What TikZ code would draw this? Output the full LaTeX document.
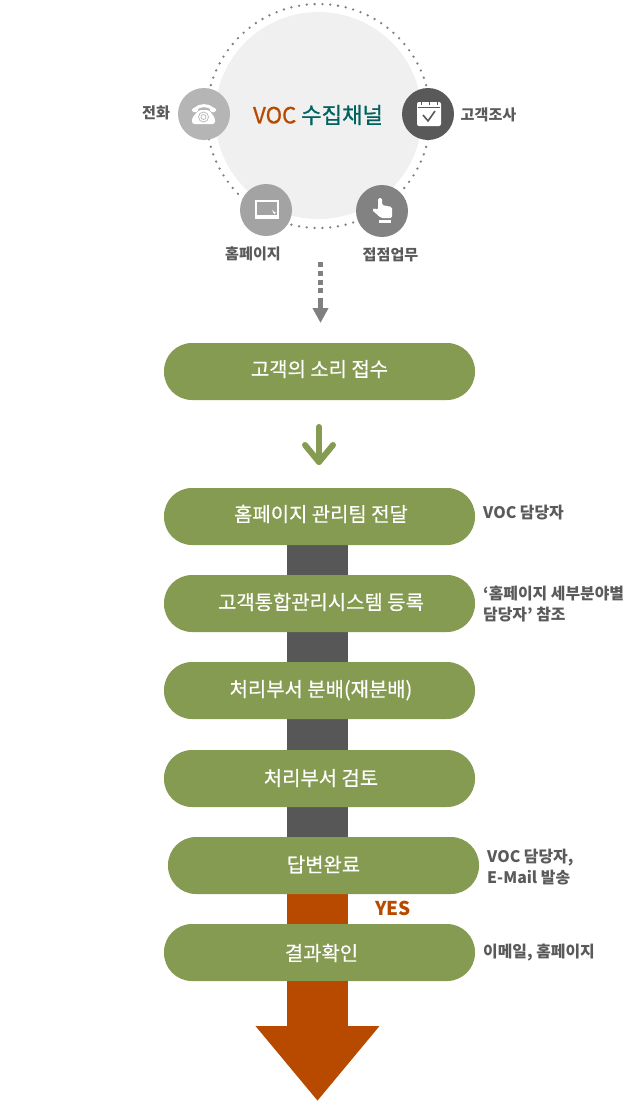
\documentclass[tikz,border=0pt]{standalone}
\usepackage{fontspec}
\setmainfont{Noto Sans CJK KR}
\newfontfamily\medfont{Noto Sans CJK KR}[FakeBold=0.5]
\newfontfamily\semifont{Noto Sans CJK KR}[FakeBold=0.9]
\usepackage{xcolor}
\usepackage{tikz}
\usetikzlibrary{arrows.meta,backgrounds}
\definecolor{pillgreen}{HTML}{859B52}
\definecolor{barorange}{HTML}{B84A00}
\definecolor{bargray}{HTML}{575757}
\definecolor{labelgray}{HTML}{5A5A5A}
\definecolor{titleteal}{HTML}{00625F}
\begin{document}
\begin{tikzpicture}[x=1pt, y=-1pt,
  pill/.style={fill=pillgreen, rounded corners=28pt, minimum width=311pt, minimum height=57pt, inner sep=0pt, text=white, text height=16pt, font=\medfont\fontsize{19.9}{22}\selectfont},
  lift/.style={text depth=#1},
  side/.style={anchor=west, align=left, inner sep=0pt, text=labelgray, font=\fontsize{15.9}{21}\selectfont\bfseries},
  chan/.style={inner sep=0pt, text=labelgray, font=\fontsize{15.1}{18}\selectfont\bfseries},
  icon/.style={circle, minimum size=52pt, inner sep=0pt},
  bar/.style={line width=61pt}]
\useasboundingbox (0,0) rectangle (640,1103);
% collection channels
\node[circle, fill=black!6, minimum size=207pt, inner sep=0pt] (hub) at (318.5,115.5) {};
\draw[black!50, line width=2.6pt, line cap=round, dash pattern=on 0pt off 7.82pt] (318.5,116) circle[radius=112];
\node[font=\semifont\fontsize{22.2}{25}\selectfont] (title) at (318,115) {\textcolor{barorange}{VOC} \textcolor{titleteal}{수집채널}};
\node[icon, fill=black!29] (tel) at (204,114) {};
\node[icon, fill=black!65] (survey) at (428,114) {};
\node[icon, fill=black!36] (web) at (266,210) {};
\node[icon, fill=black!49] (shop) at (382,211) {};
\node[chan] (tellab) at (156,113) {전화};
\node[chan] (surveylab) at (488.5,115) {고객조사};
\node[chan] (weblab) at (253,254) {홈페이지};
\node[chan] (shoplab) at (390.5,255) {접점업무};
% phone
\draw[white, line width=3pt, line cap=round] (195,109) .. controls (200,104.5) and (208,104.5) .. (213,109);
\fill[white, rounded corners=1.5pt] (192,108) rectangle (198,112);
\fill[white, rounded corners=1.5pt] (210,108) rectangle (216,112);
\fill[white, rounded corners=2.5pt] (199,110) -- (209,110) -- (215,118) -- (215,124) -- (192,124) -- (192,118) -- cycle;
\draw[black!29, line width=0.7pt] (203.5,117) circle[radius=5];
\draw[black!29, line width=0.7pt] (203.5,117) circle[radius=2.5];
% calendar
\fill[white, rounded corners=2pt] (417,102) rectangle (441,126);
\draw[black!65, line width=1pt] (418,107) -- (440,107);
\foreach \x in {421,429,437} \draw[black!65, line width=1pt] (\x,101) -- (\x,105);
\draw[black!65, line width=1.6pt] (423,115) -- (428,121) -- (435,111);
% laptop
\draw[white, line width=1.2pt] (256,201) rectangle (278,216);
\draw[white, line width=1.6pt] (255,218) -- (279,218);
\fill[white] (272,210) -- (276,213) -- (274,214) -- cycle;
% hand
\fill[white, rounded corners=1.5pt] (378,198) -- (382,198) -- (382,205) -- (392,207) -- (392,218) -- (381,218) -- (372,210) -- (374,208) -- (378,210) -- cycle;
\fill[white] (379,220) rectangle (391,223);
% down arrows
\coordinate (dashtop) at (320.5,262);
\coordinate (dashend) at (320.5,295);
\coordinate (dashgap) at (320.5,298);
\coordinate (dashtip) at (320.5,323);
\draw[black!50, line width=5pt, dash pattern=on 5pt off 3.8pt] (dashtop) -- (dashend);
\draw[black!50, line width=5pt, -{Triangle[length=15pt,width=15pt]}] (dashgap) -- (dashtip);
% steps
\node[pill, lift=6pt] (recv) at (319.5,371.5) {고객의 소리 접수};
\node[pill, lift=6pt] (pass) at (319.5,516.5) {\hspace{3pt}홈페이지 관리팀 전달};
\node[pill, lift=4pt] (reg) at (319.5,603.5) {\hspace{3pt}고객통합관리시스템 등록};
\node[pill, lift=4pt] (dist) at (319.5,690.5) {\hspace{3pt}처리부서 분배(재분배)};
\node[pill, lift=2pt] (review) at (319.5,778.5) {\hspace{3pt}처리부서 검토};
\node[pill, lift=3pt] (done) at (323.5,865.5) {답변완료};
\node[pill, lift=0pt] (check) at (319.5,952.5) {\hspace{4pt}결과확인};
\coordinate (stem) at (317.5,0);
\coordinate (endtip) at (317.5,1101);
\coordinate (greentip) at (319,462);
\draw[pillgreen, line width=6pt, line cap=round] (319,427) -- (greentip);
\draw[pillgreen, line width=6pt, line cap=round, line join=round] (305,445) -- (greentip) -- (333,445);
\begin{scope}[on background layer]
\draw[bar, bargray] (stem |- pass.south) -- (stem |- done.north);
\draw[bar, barorange] (stem |- done.south) -- (stem |- check.north);
\end{scope}
\draw[bar, barorange, -{Triangle[length=75pt,width=119pt]}] (stem |- check.south) -- (endtip);
\node[inner sep=0pt, text=barorange, font=\fontsize{19}{22}\selectfont\bfseries] (yes) at (393,908) {YES};
% notes
\node[side] (note1) at (483,513) {VOC 담당자};
\node[side] (note2) at (483,604.5) {‘홈페이지 세부분야별\\담당자’ 참조};
\node[side] (note3) at (487,867) {VOC 담당자,\\E-Mail 발송};
\node[side] (note4) at (483,953) {이메일, 홈페이지};
\end{tikzpicture}
\end{document}
